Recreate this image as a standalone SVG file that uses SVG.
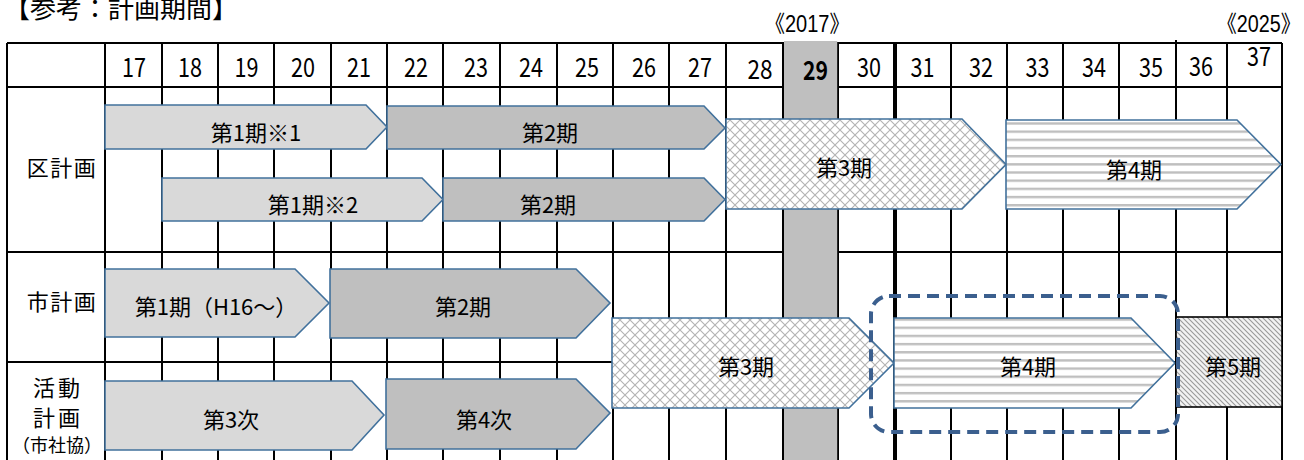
<svg xmlns="http://www.w3.org/2000/svg" width="1304" height="460" viewBox="0 0 1304 460">
<style>
text{font-family:"Noto Sans CJK JP","Noto Sans",sans-serif;fill:#000}
.g{stroke:#000;stroke-width:2;fill:none}
.num{font-size:26px;text-anchor:middle}
.lbl{font-size:22px;text-anchor:middle;letter-spacing:1.5px}
.t{font-size:22px;text-anchor:middle}
.yr{font-family:"Liberation Sans","Noto Sans CJK JP",sans-serif;font-size:23px}
.arr{stroke:#41719c;stroke-width:1.6}
.lt{fill:#d9d9d9}
.dk{fill:#bfbfbf}
</style>
<defs>
<pattern id="trellis" patternUnits="userSpaceOnUse" width="10" height="10">
<rect width="10" height="10" fill="#fff"/>
<path d="M0,0L10,10M10,0L0,10" stroke="#b3b3b3" stroke-width="1.1"/>
</pattern>
<pattern id="stripes" patternUnits="userSpaceOnUse" x="0" y="122.3" width="10" height="8.17">
<rect width="10" height="8.17" fill="#fff"/>
<rect y="0" width="10" height="2.4" fill="#bfbfbf"/>
</pattern>
<pattern id="hatch" patternUnits="userSpaceOnUse" width="5" height="5">
<rect width="5" height="5" fill="#f2f2f2"/>
<path d="M-1,-1L6,6M-1,4L1,6M4,-1L6,1" stroke="#999" stroke-width="1.1"/>
</pattern>
</defs>
<rect width="1304" height="460" fill="#fff"/>

<g id="title">
<text x="4" y="18" style="font-size:26px">【参考：計画期間】</text>
<text class="yr" transform="translate(765,32) scale(0.87,1)">《2017》</text>
<text class="yr" transform="translate(1217,32) scale(0.86,1)">《2025》</text>
</g>

<g id="grid">
<path class="g" d="M7,43H1282M7,87H1282M7,252H1282M7,362H1282"/>
<path class="g" d="M7,43V460M105,43V460M162,43V460M218,43V460M274,43V460M331,43V460M387,43V460M443,43V460M500,43V460M557,43V460M613,43V460M669,43V460M726,43V460M783,43V460M838,43V460M951,43V460M1007,43V460M1063,43V460M1119,43V460M1176,40V460M1227,43V460M1282,43V460"/>
<rect x="784" y="41" width="53.2" height="419" fill="#bfbfbf"/>
<path d="M895,43V460" stroke="#000" stroke-width="4"/>
</g>

<g id="header">
<text class="num" x="134" y="77" textLength="24" lengthAdjust="spacingAndGlyphs">17</text>
<text class="num" x="190" y="77" textLength="24" lengthAdjust="spacingAndGlyphs">18</text>
<text class="num" x="246.5" y="77" textLength="24" lengthAdjust="spacingAndGlyphs">19</text>
<text class="num" x="303" y="77" textLength="24" lengthAdjust="spacingAndGlyphs">20</text>
<text class="num" x="359" y="77" textLength="24" lengthAdjust="spacingAndGlyphs">21</text>
<text class="num" x="416" y="77" textLength="24" lengthAdjust="spacingAndGlyphs">22</text>
<text class="num" x="476" y="77" textLength="24" lengthAdjust="spacingAndGlyphs">23</text>
<text class="num" x="531" y="77" textLength="24" lengthAdjust="spacingAndGlyphs">24</text>
<text class="num" x="587" y="77" textLength="24" lengthAdjust="spacingAndGlyphs">25</text>
<text class="num" x="644" y="77" textLength="24" lengthAdjust="spacingAndGlyphs">26</text>
<text class="num" x="700" y="77" textLength="24" lengthAdjust="spacingAndGlyphs">27</text>
<text class="num" x="760" y="79" textLength="25" lengthAdjust="spacingAndGlyphs">28</text>
<text class="num" x="815.5" y="80" textLength="25" lengthAdjust="spacingAndGlyphs" style="font-weight:bold">29</text>
<text class="num" x="869" y="77" textLength="24" lengthAdjust="spacingAndGlyphs">30</text>
<text class="num" x="922.5" y="77" textLength="24" lengthAdjust="spacingAndGlyphs">31</text>
<text class="num" x="981" y="77" textLength="24" lengthAdjust="spacingAndGlyphs">32</text>
<text class="num" x="1037.5" y="77" textLength="24" lengthAdjust="spacingAndGlyphs">33</text>
<text class="num" x="1094" y="77" textLength="24" lengthAdjust="spacingAndGlyphs">34</text>
<text class="num" x="1151" y="77" textLength="24" lengthAdjust="spacingAndGlyphs">35</text>
<text class="num" x="1201" y="76" textLength="24" lengthAdjust="spacingAndGlyphs">36</text>
<text class="num" x="1259" y="66" textLength="24" lengthAdjust="spacingAndGlyphs">37</text>
</g>

<g id="row-labels">
<text class="lbl" x="62" y="176">区計画</text>
<text class="lbl" x="62" y="310">市計画</text>
<text class="lbl" x="58" y="396" style="letter-spacing:3px">活動</text>
<text class="lbl" x="58" y="426" style="letter-spacing:3px">計画</text>
<text x="57" y="452" style="font-size:18px;text-anchor:middle">（市社協）</text>
</g>

<g id="ku-1">
<polygon class="arr lt" points="105,105 366,105 387,127 366,149 105,149"/>
<text class="t" x="256" y="141">第1期※1</text>
</g>
<g id="ku-2">
<polygon class="arr dk" points="387,106 704,106 725,128 704,149 387,149"/>
<text class="t" x="550" y="141">第2期</text>
</g>
<g id="ku-1b">
<polygon class="arr lt" points="162,178 422,178 443,199.5 422,221 162,221"/>
<text class="t" x="313" y="213">第1期※2</text>
</g>
<g id="ku-2b">
<polygon class="arr dk" points="443,178 704,178 725,199.5 704,221 443,221"/>
<text class="t" x="548" y="213">第2期</text>
</g>
<g id="ku-3">
<polygon class="arr" fill="url(#trellis)" points="726,119 962,119 1006,164.5 962,209 726,209"/>
<text class="t" x="844" y="176">第3期</text>
</g>
<g id="ku-4">
<polygon class="arr" fill="url(#stripes)" points="1006,120 1237,120 1281,164.5 1237,209 1006,209"/>
<text class="t" x="1134" y="178">第4期</text>
</g>

<g id="shi-1">
<polygon class="arr lt" points="105,269 295,269 329,303 295,337 105,337"/>
<text class="t" x="216" y="315">第1期（H16～）</text>
</g>
<g id="shi-2">
<polygon class="arr dk" points="330,269 576,269 610,303 576,338 330,338"/>
<text class="t" x="463" y="315">第2期</text>
</g>
<g id="shi-3">
<polygon class="arr" fill="url(#trellis)" points="612,318 849,318 894,363 849,408 612,408"/>
<text class="t" x="746" y="375">第3期</text>
</g>
<g id="shi-4">
<polygon class="arr" fill="url(#stripes)" points="894,318 1131,318 1175,363 1131,408 894,408"/>
<text class="t" x="1028" y="375">第4期</text>
</g>
<g id="shi-5">
<rect x="1176" y="317" width="106" height="90" fill="url(#hatch)" stroke="#000" stroke-width="1.6"/>
<text class="t" x="1233" y="375">第5期</text>
</g>

<g id="kat-3">
<polygon class="arr lt" points="105,381 352,381 384,415 352,450 105,450"/>
<text class="t" x="231" y="428">第3次</text>
</g>
<g id="kat-4">
<polygon class="arr dk" points="386,379 576,379 610,413 576,449 386,449"/>
<text class="t" x="484" y="428">第4次</text>
</g>

<g id="highlight">
<rect x="871" y="296" width="307" height="136" rx="18" fill="none" stroke="#3b5f8e" stroke-width="4" stroke-dasharray="12 7"/>
</g>
<g id="connectors"/>
</svg>
